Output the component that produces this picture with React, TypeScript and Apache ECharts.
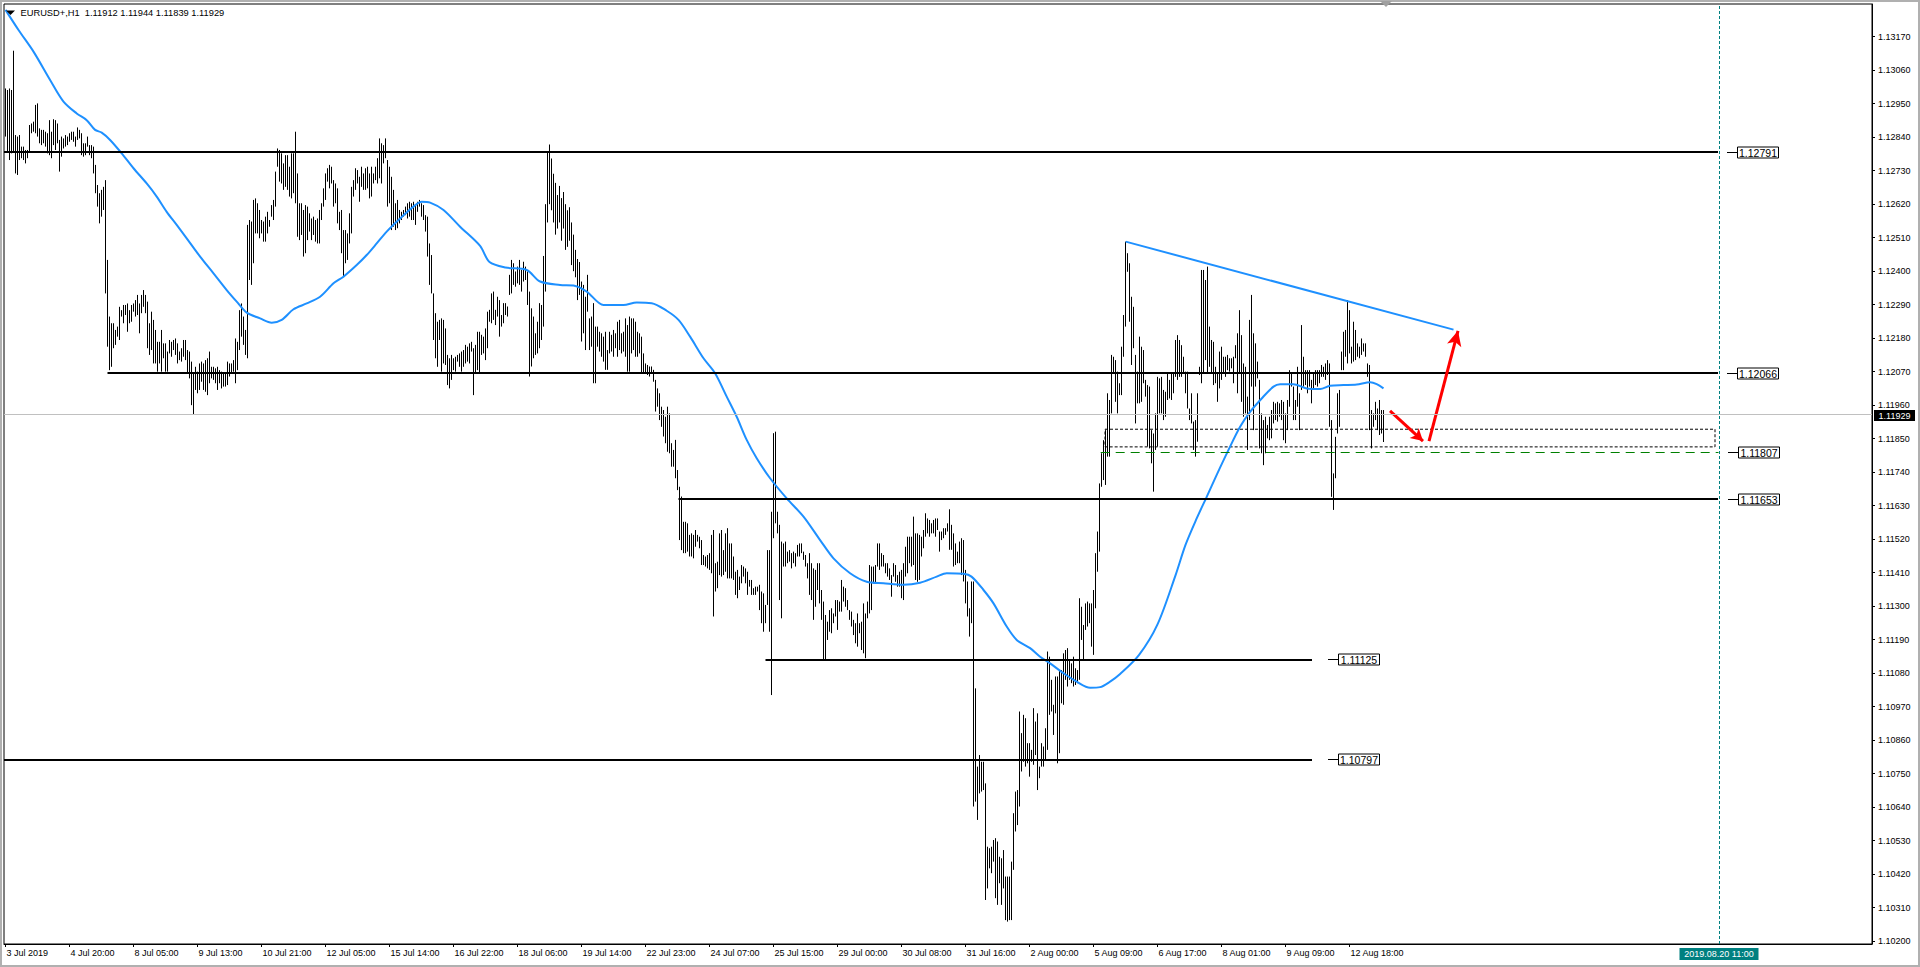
import React, { useEffect, useRef } from "react";
import * as echarts from "echarts";

const FONT = '"Liberation Sans", Arial, sans-serif';
const BASE = 1.1;
const POINT = 0.00001;

// H1 bars of EURUSD+, high and low in points (0.00001) above 1.10000
const barHighs = [
  3000,2995,3000,2995,3124,2847,2842,2847,2809,2809,
  2798,2798,2880,2885,2891,2946,2951,2869,2864,2864,
  2858,2853,2896,2858,2899,2896,2885,2831,2842,2836,
  2847,2842,2853,2858,2858,2842,2872,2864,2853,2820,
  2820,2842,2814,2814,2809,2749,2683,2656,2667,2677,
  2699,2437,2251,2229,2229,2207,2218,2283,2272,2289,
  2289,2294,2272,2289,2294,2305,2322,2294,2322,2338,
  2322,2300,2229,2267,2240,2207,2168,2168,2207,2163,
  2163,2136,2174,2168,2174,2179,2163,2136,2147,2174,
  2174,2141,2136,2103,2064,2086,2070,2097,2103,2097,
  2108,2114,2136,2086,2086,2081,2086,2075,2070,2064,
  2064,2103,2097,2097,2108,2179,2168,2272,2294,2251,
  2207,2552,2568,2563,2634,2639,2623,2601,2568,2563,
  2579,2595,2568,2617,2634,2727,2803,2798,2787,2754,
  2781,2781,2743,2787,2787,2858,2721,2623,2623,2601,
  2617,2612,2590,2573,2579,2568,2573,2601,2623,2672,
  2721,2738,2749,2743,2699,2688,2672,2595,2601,2535,
  2535,2524,2590,2677,2699,2738,2732,2710,2743,2721,
  2738,2743,2721,2743,2721,2743,2771,2836,2820,2814,
  2836,2765,2743,2710,2667,2623,2634,2601,2595,2601,
  2612,2623,2628,2623,2628,2617,2628,2634,2623,2617,
  2584,2579,2491,2453,2327,2262,2234,2240,2245,2240,
  2212,2125,2114,2125,2114,2119,2125,2130,2136,2141,
  2158,2152,2163,2168,2147,2158,2201,2201,2191,2185,
  2212,2267,2273,2327,2333,2273,2316,2305,2256,2295,
  2295,2284,2388,2437,2426,2399,2415,2437,2404,2431,
  2415,2399,2333,2278,2251,2196,2234,2295,2289,2450,
  2620,2790,2816,2770,2720,2690,2650,2680,2640,2660,
  2620,2600,2610,2560,2520,2470,2440,2430,2366,2355,
  2316,2388,2245,2251,2295,2218,2218,2201,2196,2185,
  2201,2141,2201,2191,2207,2196,2234,2240,2196,2201,
  2245,2223,2251,2245,2245,2234,2201,2196,2185,2130,
  2097,2092,2087,2087,2076,2043,2015,1999,1955,1944,
  1922,1955,1933,1835,1813,1846,1747,1692,1660,1577,
  1577,1572,1534,1539,1534,1550,1534,1528,1517,1468,
  1463,1468,1474,1534,1550,1441,1446,1539,1550,1484,
  1539,1556,1506,1506,1463,1413,1419,1397,1435,1430,
  1424,1413,1386,1386,1359,1364,1364,1370,1348,1342,
  1304,1484,1484,1610,1868,1873,1610,1567,1512,1506,
  1512,1479,1484,1474,1479,1474,1501,1506,1506,1479,
  1468,1441,1474,1441,1424,1419,1441,1441,1353,1315,
  1271,1249,1287,1293,1276,1320,1320,1315,1386,1364,
  1359,1320,1287,1282,1255,1244,1276,1244,1249,1309,
  1276,1315,1435,1430,1430,1435,1506,1506,1474,1468,
  1441,1441,1424,1402,1441,1435,1402,1413,1419,1441,
  1495,1528,1528,1528,1594,1539,1539,1534,1528,1550,
  1605,1588,1583,1572,1583,1588,1588,1545,1545,1556,
  1556,1572,1618,1567,1539,1506,1479,1512,1523,1517,
  1419,1381,1293,1381,1381,1030,773,811,789,789,
  718,510,505,510,532,538,527,477,472,499,
  412,412,412,461,620,691,696,954,883,943,
  932,850,850,828,965,921,948,773,850,839,
  899,1151,1134,1058,976,1069,1069,1090,1090,1145,
  1156,1162,1123,1112,1134,1096,1090,1326,1298,1238,
  1309,1315,1309,1309,1353,1474,1545,1703,1802,1845,
  1878,1999,1977,2125,2119,2108,2070,2032,2152,2256,
  2497,2459,2426,2316,2283,2125,2070,2185,2152,2141,
  2043,2026,2021,1878,1867,1933,2053,2048,2053,2010,
  2004,2064,2043,2064,2064,2174,2190,2174,2157,2119,
  2070,2070,1949,1999,1906,1911,1999,2086,2404,2404,
  2371,2415,2218,2174,2168,2086,2064,2136,2152,2119,
  2119,2125,2114,2114,2119,2157,2196,2272,2190,2097,
  2086,1988,2240,2322,2196,2163,2103,2043,1933,1911,
  1922,1895,1922,1944,1971,1966,1971,1966,1977,1971,
  1933,1977,2075,2064,2021,1977,2086,1999,2223,2119,
  2075,2075,2075,2043,2064,2075,2075,2075,2092,2086,
  2097,2108,2097,1911,1736,1856,1999,2010,2136,2201,
  2207,2305,2272,2152,2234,2207,2163,2152,2179,2163,
  2163,2097,2092,1944,1933,1971,1949,1977,1944,1944,
];

const barLows = [
  2842,2792,2765,2787,2792,2721,2716,2765,2771,2765,
  2754,2771,2792,2853,2858,2853,2842,2820,2814,2820,
  2809,2787,2781,2771,2814,2798,2820,2727,2776,2803,
  2809,2814,2825,2831,2825,2809,2831,2836,2781,2776,
  2781,2809,2781,2771,2721,2656,2612,2557,2579,2601,
  2327,2152,2075,2086,2147,2158,2185,2174,2251,2229,
  2256,2201,2229,2234,2267,2251,2256,2196,2262,2283,
  2262,2147,2125,2141,2097,2097,2070,2097,2070,2114,
  2070,2070,2130,2119,2141,2125,2097,2108,2103,2119,
  2108,2064,2048,1960,1928,2010,1999,2010,2037,2010,
  2004,1993,2032,2048,2043,2032,2010,2032,2015,2021,
  2021,2026,2054,2064,2070,2032,2075,2141,2185,2158,
  2125,2114,2371,2355,2426,2524,2524,2508,2524,2497,
  2497,2524,2546,2579,2568,2612,2743,2694,2688,2667,
  2677,2667,2645,2639,2656,2623,2513,2502,2519,2448,
  2459,2502,2530,2502,2519,2497,2491,2491,2568,2612,
  2634,2694,2672,2688,2612,2623,2557,2535,2459,2382,
  2426,2437,2491,2524,2645,2667,2688,2628,2677,2667,
  2667,2672,2639,2645,2688,2699,2688,2705,2688,2754,
  2771,2612,2623,2535,2546,2535,2541,2557,2568,2579,
  2584,2573,2579,2568,2568,2552,2595,2612,2579,2568,
  2530,2448,2355,2327,2174,2114,2086,2174,2070,2097,
  2092,2026,2015,2043,2075,2070,2103,2086,2070,2086,
  2097,2103,2097,2136,1993,2064,2075,2064,2125,2130,
  2108,2147,2234,2229,2240,2223,2251,2185,2218,2229,
  2256,2251,2322,2327,2355,2349,2360,2355,2333,2366,
  2371,2289,2054,2087,2114,2125,2130,2147,2174,2218,
  2333,2560,2620,2600,2560,2520,2540,2560,2500,2540,
  2470,2480,2500,2420,2400,2380,2305,2322,2169,2196,
  2141,2267,2141,2152,2032,2032,2152,2136,2119,2103,
  2076,2076,2130,2136,2119,2147,2119,2141,2130,2136,
  2119,2070,2070,2130,2141,2119,2119,2130,2065,2065,
  2065,2059,2054,2065,2037,1939,1955,1911,1889,1857,
  1835,1807,1802,1758,1758,1720,1681,1517,1484,1474,
  1474,1479,1463,1463,1457,1495,1512,1490,1435,1435,
  1430,1424,1419,1408,1266,1348,1359,1402,1397,1402,
  1413,1391,1391,1391,1386,1337,1326,1353,1375,1397,
  1375,1337,1364,1337,1337,1337,1348,1287,1244,1216,
  1244,1304,1216,1008,1523,1572,1539,1320,1260,1430,
  1430,1441,1446,1424,1441,1430,1463,1463,1474,1452,
  1430,1391,1337,1320,1255,1298,1353,1309,1255,1123,
  1123,1189,1216,1211,1244,1266,1222,1282,1282,1315,
  1298,1287,1255,1233,1205,1178,1167,1211,1156,1145,
  1129,1260,1276,1287,1375,1375,1430,1419,1430,1430,
  1408,1397,1386,1331,1397,1380,1364,1364,1326,1320,
  1397,1408,1441,1430,1435,1386,1380,1386,1463,1490,
  1528,1539,1528,1539,1539,1528,1550,1479,1517,1523,
  1534,1545,1485,1485,1430,1435,1441,1441,1402,1381,
  1309,1266,1200,1244,642,658,598,685,691,696,
  335,373,439,423,461,341,319,390,319,373,
  269,264,269,269,434,560,581,642,757,789,
  773,784,740,789,779,811,696,735,773,773,
  795,828,943,954,877,948,784,817,981,976,
  1058,1036,1058,1047,1036,1041,1047,1058,1189,1123,
  1222,1233,1244,1167,1140,1293,1413,1479,1692,1714,
  1698,1791,1791,1933,2064,1971,1933,1993,1993,2119,
  2218,2398,2234,2092,2147,1900,1966,1966,1971,2032,
  1988,1824,1818,1769,1676,1813,1824,1933,1933,1911,
  1922,1977,1982,1977,1999,2053,2043,2053,2053,2064,
  1999,1949,1911,1900,1813,1791,1840,2059,2032,2064,
  2108,2064,2086,2064,2026,2032,1971,2015,2043,2064,
  2053,2075,2070,2081,2032,2114,1999,2064,1971,1922,
  1933,1813,1911,2021,1878,2021,2048,1818,1802,1763,
  1802,1851,1845,1851,1900,1911,1906,1922,1911,1845,
  1835,1878,1955,2021,1911,1911,1955,1878,2010,2021,
  2026,1999,2021,1966,2010,2026,2021,2032,2053,2053,
  2043,2059,1889,1659,1616,1720,1867,1889,2075,2075,
  2119,2097,2130,2097,2103,2108,2119,2114,2125,2136,
  2119,2053,1878,1818,1889,1911,1878,1862,1867,1839,
];

// moving average: [bar index, points above 1.10000]
const maPoints: [number, number][] = [
  [0,3258],[6.5,3192],[14,3121],[22.3,3028],[29,2957],[35.6,2918],[40.6,2896],[44.8,2864],
  [48.1,2855],[52.3,2831],[58.1,2787],[64,2738],[70.6,2688],[75.6,2645],[80.6,2595],[85.6,2552],
  [90.6,2508],[97.3,2448],[104,2393],[110.6,2338],[115.6,2300],[120.6,2264],[127.3,2245],[133.1,2231],
  [138.1,2240],[144,2275],[150.6,2294],[157.3,2316],[164,2360],[169,2382],[175.6,2420],[180.6,2453],
  [185.6,2491],[190.6,2530],[197.3,2573],[204,2612],[208.1,2628],[212.3,2625],[219,2601],[227.3,2546],
  [237.3,2483],[242,2430],[250,2412],[260.6,2404],[267.3,2366],[277.3,2355],[284,2353],[290.6,2333],
  [299,2289],[309,2289],[315.6,2297],[323.1,2295],[330.6,2270],[336.5,2240],[342.3,2185],[349,2114],
  [354.8,2065],[360.6,1988],[365.6,1922],[370.6,1846],[375.6,1786],[382.3,1720],[390.6,1654],[399,1594],
  [407.3,1517],[414,1457],[422.3,1408],[430.6,1380],[439,1375],[449,1370],[457.3,1377],[465.6,1397],
  [470.6,1408],[479,1406],[483,1397],[489,1353],[494,1309],[500.6,1233],[505.6,1189],[512.3,1162],
  [517.3,1134],[522.3,1112],[529,1080],[535.6,1052],[542.3,1032],[547.3,1034],[552.3,1052],[557.3,1077],
  [566.7,1139],[576,1240],[585,1401],[590,1501],[595.6,1588],[600.6,1659],[605.6,1731],[611.5,1813],
  [617.3,1889],[622.3,1938],[628.1,1982],[634,2021],[637.3,2029],[644,2029],[650.6,2015],[657.3,2013],
  [662.3,2024],[669,2026],[675.6,2028],[682.3,2035],[685.6,2029],[689,2015],
];

const xLabels = [
  "3 Jul 2019", "4 Jul 20:00", "8 Jul 05:00", "9 Jul 13:00", "10 Jul 21:00", "12 Jul 05:00",
  "15 Jul 14:00", "16 Jul 22:00", "18 Jul 06:00", "19 Jul 14:00", "22 Jul 23:00", "24 Jul 07:00",
  "25 Jul 15:00", "29 Jul 00:00", "30 Jul 08:00", "31 Jul 16:00", "2 Aug 00:00", "5 Aug 09:00",
  "6 Aug 17:00", "8 Aug 01:00", "9 Aug 09:00", "12 Aug 18:00",
];
const barsPerLabel = 32;

const yTicks = [
  1.102, 1.1031, 1.1042, 1.1053, 1.1064, 1.1075, 1.1086, 1.1097, 1.1108, 1.1119,
  1.113, 1.1141, 1.1152, 1.1163, 1.1174, 1.1185, 1.1196, 1.1207, 1.1218, 1.1229,
  1.124, 1.1251, 1.1262, 1.1273, 1.1284, 1.1295, 1.1306, 1.1317,
];

const header = "EURUSD+,H1  1.11912 1.11944 1.11839 1.11929";
const currentPrice = 1.11929;
const crossIndex = 856.75;
const crossLabel = "2019.08.20 11:00";

// horizontal levels: price, start bar, end bar, label position (bar units)
const blackLevels = [
  { price: 1.12791, from: -0.75, to: 856.25, at: 860.75 },
  { price: 1.12066, from: 51, to: 856.25, at: 860.75 },
  { price: 1.11653, from: 336.5, to: 856.25, at: 861.25 },
  { price: 1.11125, from: 380, to: 653.25, at: 661.25 },
  { price: 1.10797, from: -0.75, to: 653.25, at: 661.25 },
];
const greenLevel = { price: 1.11807, from: 547.6, to: 856.5, at: 861.25 };
const boxZone = { from: 549.75, to: 854.75, top: 1.11881, bottom: 1.11823 };
const trendLine = [[560.1, 1.12497], [724, 1.12208]];
const arrowSmall = [[692.25, 1.11941], [708.75, 1.11842]];
const arrowBig = [[711.75, 1.11842], [726.25, 1.12204]];

export default function App() {
  const ref = useRef<HTMLDivElement>(null);

  useEffect(() => {
    document.body.style.margin = "0";
    const el = ref.current!;
    const chart = echarts.init(el, null, { renderer: "svg" });
    const toPrice = (p: number) => +(BASE + p * POINT).toFixed(5);
    const bars = barHighs.map((h, i) => [i, toPrice(h), toPrice(barLows[i])]);
    const ma = maPoints.map(([i, p]) => [i, toPrice(p)]);
    const xTickPos = xLabels.map((_, k) => k * barsPerLabel);

    const markLines: any[] = [];
    blackLevels.forEach((l) => {
      markLines.push([
        { coord: [l.from, l.price], lineStyle: { color: "#000", width: 2, type: "solid" } },
        { coord: [l.to, l.price] },
      ]);
    });
    markLines.push([
      { coord: [greenLevel.from, greenLevel.price], lineStyle: { color: "#008000", width: 1, type: [9, 6] } },
      { coord: [greenLevel.to, greenLevel.price] },
    ]);
    markLines.push([
      { coord: trendLine[0], lineStyle: { color: "#1E90FF", width: 2, type: "solid" } },
      { coord: trendLine[1] },
    ]);
    markLines.push([
      { coord: arrowSmall[0], symbol: "none", lineStyle: { color: "#FF0000", width: 3, type: "solid" } },
      { coord: arrowSmall[1], symbol: "arrow", symbolSize: [10, 12] },
    ]);
    markLines.push([
      { coord: arrowBig[0], symbol: "none", lineStyle: { color: "#FF0000", width: 3, type: "solid" } },
      { coord: arrowBig[1], symbol: "arrow", symbolSize: [11, 15] },
    ]);
    markLines.push({ xAxis: crossIndex, lineStyle: { color: "#008080", width: 1, type: [3, 2] } });
    markLines.push({ yAxis: currentPrice, lineStyle: { color: "#C0C0C0", width: 1, type: "solid" } });

    const option: any = {
      animation: false,
      backgroundColor: "#fff",
      grid: {
        left: 4, top: 4, right: 48, bottom: 23,
        show: true, borderColor: "#000", borderWidth: 1, backgroundColor: "#fff",
        containLabel: false, outerBoundsMode: "none",
      },
      xAxis: {
        type: "value", min: -0.75, max: 933.25,
        axisLine: { show: true, onZero: false, lineStyle: { color: "#000", width: 1 } },
        axisTick: { show: true, customValues: xTickPos, length: 3, lineStyle: { color: "#000" } },
        axisLabel: {
          show: true, customValues: xTickPos,
          formatter: (v: number) => xLabels[Math.round(v / barsPerLabel)] ?? "",
          align: "left", margin: 4, padding: [0, 0, 0, 1],
          fontSize: 9, fontFamily: FONT, color: "#000",
        },
        splitLine: { show: false },
      },
      yAxis: {
        type: "value", position: "right", min: 1.101905, max: 1.132774, scale: true,
        axisLine: { show: true, onZero: false, lineStyle: { color: "#000", width: 1 } },
        axisTick: { show: true, customValues: yTicks, length: 3, lineStyle: { color: "#000" } },
        axisLabel: {
          show: true, customValues: yTicks,
          formatter: (v: number) => v.toFixed(5),
          margin: 6, fontSize: 9, fontFamily: FONT, color: "#000",
        },
        splitLine: { show: false },
      },
      series: [
        {
          type: "custom",
          name: "EURUSD+ H1",
          silent: true,
          z: 2,
          data: bars,
          encode: { x: 0, y: [1, 2] },
          renderItem: (_params: any, api: any) => {
            const x = api.value(0);
            const p1 = api.coord([x, api.value(1)]);
            const p2 = api.coord([x, api.value(2)]);
            const px = Math.round(p1[0] - 0.5) + 0.5;
            return {
              type: "line",
              shape: { x1: px, y1: p1[1], x2: px, y2: p2[1] },
              style: { stroke: "#000", lineWidth: 1 },
            };
          },
        },
        {
          type: "line",
          name: "MA",
          silent: true,
          z: 3,
          data: ma,
          showSymbol: false,
          smooth: 0.3,
          lineStyle: { color: "#1E90FF", width: 2 },
          markArea: {
            silent: true,
            itemStyle: { color: "rgba(0,0,0,0)", borderColor: "#000", borderWidth: 1, borderType: [3, 2] },
            data: [[{ coord: [boxZone.from, boxZone.top] }, { coord: [boxZone.to, boxZone.bottom] }]],
          },
          markLine: {
            silent: true,
            precision: 5,
            symbol: ["none", "none"],
            label: { show: false },
            emphasis: { disabled: true },
            data: markLines,
          },
        },
      ],
    };
    chart.setOption(option);

    const px = (i: number, p: number) => chart.convertToPixel({ gridIndex: 0 }, [i, p]) as number[];
    const txt = (x: number, y: number, text: string, size: number, fill: string, align = "left") => ({
      type: "text", silent: true, x, y, z: 50,
      style: {
        text, fontSize: size, fontFamily: FONT, fill,
        align, verticalAlign: "middle", textAlign: align, textVerticalAlign: "middle",
      },
    });
    const g: any[] = [];
    g.push({ type: "rect", silent: true, z: 40, shape: { x: 1, y: 1, width: 1918, height: 965 }, style: { fill: "none", stroke: "#b0b0b0", lineWidth: 2 } });
    g.push({ type: "polygon", silent: true, z: 40, shape: { points: [[1380, 1], [1392, 1], [1386, 7]] }, style: { fill: "#a0a0a0" } });
    g.push({ type: "polygon", silent: true, z: 50, shape: { points: [[6, 10.5], [15, 10.5], [10.5, 15]] }, style: { fill: "#000" } });
    g.push(txt(20.5, 13, header, 9.3, "#000"));

    const labelled = [...blackLevels, greenLevel];
    labelled.forEach((l) => {
      const [x, y] = px(l.at, l.price);
      const yc = Math.round(y);
      const bx = Math.round(x + 10) + 0.5;
      g.push({ type: "line", silent: true, z: 50, shape: { x1: x, y1: yc + 0.5, x2: bx, y2: yc + 0.5 }, style: { stroke: "#000", lineWidth: 1 } });
      g.push({ type: "rect", silent: true, z: 50, shape: { x: bx, y: yc - 5, width: 41, height: 11 }, style: { fill: "#fff", stroke: "#000", lineWidth: 1 } });
      g.push(txt(bx + 20.5, yc + 0.5, l.price.toFixed(5), 10.5, "#000", "center"));
    });

    const [gridRight] = px(933.25, currentPrice);
    const [, yCur] = px(0, currentPrice);
    const yc = Math.round(yCur);
    g.push({ type: "rect", silent: true, z: 50, shape: { x: gridRight + 2, y: yc - 5, width: 41, height: 11 }, style: { fill: "#000" } });
    g.push(txt(gridRight + 22.5, yc + 0.5, currentPrice.toFixed(5), 9, "#fff", "center"));

    const [xCross] = px(crossIndex, currentPrice);
    g.push({ type: "rect", silent: true, z: 50, shape: { x: xCross - 39.5, y: 948, width: 79, height: 12 }, style: { fill: "#008080" } });
    g.push(txt(xCross, 954, crossLabel, 9, "#fff", "center"));

    chart.setOption({ graphic: { elements: g } });

    return () => chart.dispose();
  }, []);

  return <div ref={ref} style={{ width: 1920, height: 967 }} />;
}
